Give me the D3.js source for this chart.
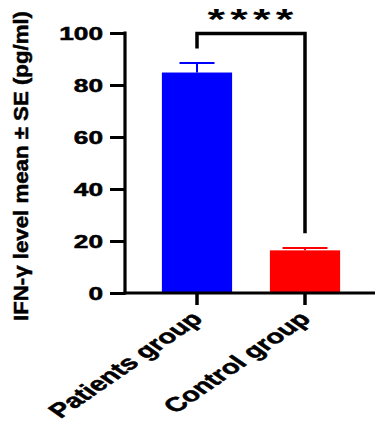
<!DOCTYPE html>
<html><head><meta charset="utf-8">
<script src="https://cdn.jsdelivr.net/npm/d3@7"></script>
<style>html,body{margin:0;padding:0;background:#fff;}svg{display:block;}</style>
</head><body>
<script>
const categories = ["Patients group", "Control group"];
const means = [84.8, 16.4];
const errors = [3.7, 0.9];
const barColors = ["#0000FF", "#FF0000"];
const yTicks = [0, 20, 40, 60, 80, 100];
const yTitle = "IFN-\u03B3 level mean \u00B1 SE (pg/ml)";
const sigLabel = "****";

const W = 375, H = 423;
const SX = 1.5; // horizontal stretch of text seen in the reference
const font = "'Liberation Sans', Arial, sans-serif";

const svg = d3.select("body").append("svg").attr("width", W).attr("height", H);

const x = d3.scaleBand().domain(categories).range([143, 359]).paddingInner(0.35).paddingOuter(0.175);
const y = d3.scaleLinear().domain([0, 100]).range([293, 33]);
const axisX = 125;

// bars
svg.selectAll("rect.bar").data(categories).join("rect")
  .attr("x", d => x(d)).attr("width", x.bandwidth())
  .attr("y", (d, i) => y(means[i])).attr("height", (d, i) => y(0) - y(means[i]))
  .attr("fill", (d, i) => barColors[i]);

// error bars
categories.forEach((c, i) => {
  const cx = x(c) + x.bandwidth() / 2;
  const capW = i === 0 ? 35 : 45;
  const g = svg.append("g").attr("stroke", barColors[i]).attr("stroke-width", 2);
  g.append("line").attr("x1", cx).attr("x2", cx).attr("y1", y(means[i])).attr("y2", y(means[i] + errors[i]));
  g.append("line").attr("x1", cx - capW / 2).attr("x2", cx + capW / 2).attr("y1", y(means[i] + errors[i])).attr("y2", y(means[i] + errors[i]));
});

// y axis
const yAxisG = svg.append("g").attr("transform", `translate(${axisX},0)`)
  .call(d3.axisLeft(y).tickValues(yTicks).tickSize(15).tickSizeOuter(0).tickFormat(d3.format("d")));
yAxisG.select(".domain").attr("stroke", "#000").attr("stroke-width", 3.2).attr("d", `M0,${y(100) - 1.5}V${y(0) + 1.5}`);
yAxisG.selectAll(".tick line").attr("stroke", "#000").attr("stroke-width", 3);
yAxisG.selectAll(".tick text").remove();
yTicks.forEach(t => {
  svg.append("text")
    .attr("transform", `translate(${axisX - 22},${y(t) + 6.5}) scale(${SX},1)`)
    .attr("text-anchor", "end").attr("font-family", font).attr("font-weight", "bold")
    .attr("font-size", 17.5).attr("fill", "#000").attr("stroke", "#000").attr("stroke-width", 0.5)
    .text(t);
});

// x axis
const xAxisG = svg.append("g").attr("transform", `translate(0,${y(0)})`)
  .call(d3.axisBottom(x).tickSize(12).tickSizeOuter(0));
xAxisG.select(".domain").attr("stroke", "#000").attr("stroke-width", 3).attr("d", `M${axisX - 1.5},0H${W}`);
xAxisG.selectAll(".tick line").attr("stroke", "#000").attr("stroke-width", 3.5);
xAxisG.selectAll(".tick text").remove();
categories.forEach(c => {
  const cx = x(c) + x.bandwidth() / 2;
  svg.append("text")
    .attr("transform", `translate(${cx + 7},${y(0) + 27}) scale(1.45,1) rotate(-45)`)
    .attr("text-anchor", "end").attr("font-family", font).attr("font-weight", "bold")
    .attr("font-size", 20).attr("fill", "#000").attr("stroke", "#000").attr("stroke-width", 0.5)
    .text(c);
});

// y title
svg.append("text")
  .attr("transform", `translate(28,166) rotate(-90)`)
  .attr("text-anchor", "middle").attr("font-family", font).attr("font-weight", "bold")
  .attr("font-size", 21).attr("fill", "#000").attr("stroke", "#000").attr("stroke-width", 0.5)
  .attr("textLength", 310).attr("lengthAdjust", "spacingAndGlyphs").text(yTitle);

// significance bracket
const c0 = x(categories[0]) + x.bandwidth() / 2;
const c1 = x(categories[1]) + x.bandwidth() / 2;
svg.append("path")
  .attr("d", `M${c0},${y(94)}V${y(100) + 0.5}H${c1}V${y(23)}`)
  .attr("fill", "none").attr("stroke", "#000").attr("stroke-width", 3.5);
svg.append("text")
  .attr("transform", `translate(${(c0 + c1) / 2 + 2},29) scale(${SX},1)`)
  .attr("text-anchor", "middle").attr("font-family", font).attr("font-weight", "bold")
  .attr("font-size", 30).attr("letter-spacing", 3.5).attr("fill", "#000").text(sigLabel);
</script>
</body></html>
